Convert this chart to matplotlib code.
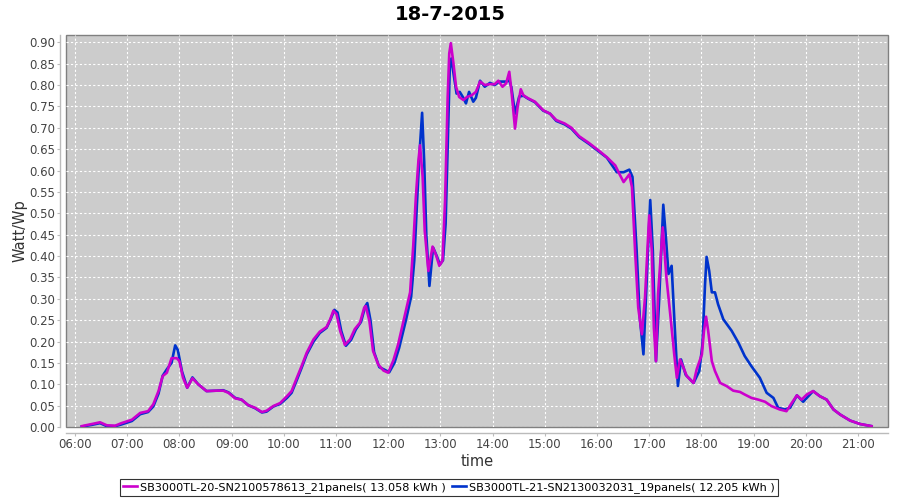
import matplotlib
matplotlib.use("Agg")
import matplotlib.pyplot as plt
from matplotlib.ticker import FixedLocator, FuncFormatter, MultipleLocator

title = "18-7-2015"
xlabel = "time"
ylabel = "Watt/Wp"
series_names = ["SB3000TL-20-SN2100578613_21panels( 13.058 kWh )",
                "SB3000TL-21-SN2130032031_19panels( 12.205 kWh )"]
series_colors = ["#cc00cc", "#0033cc"]

# time in decimal hours
t_sb20 = [6.13, 6.32, 6.48, 6.61, 6.77, 6.89, 7.09, 7.25, 7.40, 7.50, 7.60, 7.68, 7.76, 7.85, 7.95,
          8.00, 8.07, 8.15, 8.25, 8.36, 8.52, 8.71, 8.84, 8.94, 9.07, 9.19, 9.32, 9.45, 9.58, 9.67,
          9.80, 9.93, 10.06, 10.15, 10.25, 10.34, 10.44, 10.57, 10.69, 10.82, 10.89, 10.95, 11.01,
          11.08, 11.17, 11.27, 11.36, 11.46, 11.54, 11.57, 11.64, 11.71, 11.81, 11.91, 12.00, 12.10,
          12.19, 12.32, 12.42, 12.48, 12.53, 12.58, 12.61, 12.66, 12.70, 12.77, 12.85, 12.92, 12.98,
          13.04, 13.09, 13.14, 13.17, 13.20, 13.25, 13.30, 13.36, 13.44, 13.51, 13.60, 13.68, 13.76,
          13.85, 13.95, 14.04, 14.11, 14.19, 14.26, 14.32, 14.36, 14.43, 14.48, 14.54, 14.59, 14.68,
          14.81, 14.97, 15.10, 15.22, 15.38, 15.51, 15.66, 15.85, 16.03, 16.19, 16.35, 16.43, 16.51,
          16.62, 16.67, 16.73, 16.79, 16.86, 16.92, 17.00, 17.05, 17.09, 17.13, 17.17, 17.26, 17.33,
          17.41, 17.48, 17.53, 17.59, 17.66, 17.72, 17.85, 17.91, 18.01, 18.05, 18.09, 18.13, 18.20,
          18.26, 18.36, 18.48, 18.61, 18.74, 18.83, 18.96, 19.09, 19.22, 19.34, 19.50, 19.63, 19.73,
          19.83, 19.92, 20.02, 20.14, 20.27, 20.40, 20.53, 20.66, 20.85, 21.04, 21.26]
v_sb20 = [0.002, 0.007, 0.011, 0.004, 0.003, 0.009, 0.017, 0.033, 0.037, 0.053, 0.084, 0.119, 0.127,
          0.161, 0.161, 0.154, 0.115, 0.092, 0.114, 0.100, 0.084, 0.085, 0.085, 0.080, 0.067, 0.064,
          0.051, 0.045, 0.035, 0.038, 0.049, 0.056, 0.072, 0.084, 0.115, 0.142, 0.174, 0.205, 0.223,
          0.234, 0.252, 0.272, 0.264, 0.225, 0.192, 0.205, 0.229, 0.244, 0.279, 0.283, 0.248, 0.178,
          0.146, 0.132, 0.127, 0.156, 0.193, 0.262, 0.315, 0.424, 0.538, 0.624, 0.659, 0.585, 0.459,
          0.365, 0.422, 0.401, 0.377, 0.389, 0.530, 0.772, 0.874, 0.898, 0.851, 0.796, 0.772, 0.765,
          0.772, 0.776, 0.784, 0.808, 0.800, 0.802, 0.802, 0.810, 0.796, 0.804, 0.831, 0.788, 0.698,
          0.749, 0.790, 0.776, 0.769, 0.761, 0.741, 0.733, 0.718, 0.710, 0.700, 0.680, 0.664, 0.647,
          0.631, 0.612, 0.592, 0.573, 0.591, 0.561, 0.412, 0.279, 0.217, 0.303, 0.495, 0.412, 0.232,
          0.154, 0.311, 0.467, 0.350, 0.256, 0.170, 0.115, 0.158, 0.138, 0.119, 0.103, 0.135, 0.170,
          0.225, 0.258, 0.225, 0.154, 0.131, 0.103, 0.096, 0.085, 0.082, 0.076, 0.068, 0.064, 0.059,
          0.049, 0.041, 0.037, 0.056, 0.074, 0.064, 0.076, 0.084, 0.072, 0.064, 0.041, 0.029, 0.015,
          0.007, 0.002]

t_sb21 = [6.13, 6.32, 6.48, 6.61, 6.77, 6.89, 7.09, 7.25, 7.40, 7.50, 7.60, 7.68, 7.76, 7.85, 7.92,
          7.97, 8.05, 8.15, 8.25, 8.36, 8.52, 8.71, 8.84, 8.94, 9.07, 9.19, 9.32, 9.45, 9.58, 9.67,
          9.80, 9.93, 10.06, 10.15, 10.25, 10.34, 10.44, 10.57, 10.69, 10.82, 10.89, 10.97, 11.03,
          11.10, 11.19, 11.29, 11.38, 11.48, 11.56, 11.60, 11.66, 11.73, 11.83, 11.93, 12.02, 12.12,
          12.21, 12.34, 12.44, 12.50, 12.55, 12.60, 12.65, 12.69, 12.73, 12.79, 12.86, 12.93, 12.99,
          13.05, 13.10, 13.15, 13.18, 13.21, 13.26, 13.31, 13.37, 13.44, 13.49, 13.55, 13.63, 13.68,
          13.76, 13.85, 13.95, 14.04, 14.13, 14.26, 14.32, 14.36, 14.43, 14.51, 14.59, 14.68, 14.81,
          14.97, 15.10, 15.22, 15.38, 15.51, 15.66, 15.85, 16.03, 16.19, 16.38, 16.51, 16.62, 16.68,
          16.76, 16.82, 16.89, 16.95, 17.02, 17.07, 17.13, 17.19, 17.27, 17.32, 17.37, 17.43, 17.48,
          17.55, 17.61, 17.70, 17.85, 17.96, 18.02, 18.07, 18.10, 18.15, 18.20, 18.26, 18.32, 18.42,
          18.58, 18.71, 18.83, 18.96, 19.12, 19.25, 19.38, 19.47, 19.60, 19.70, 19.83, 19.95, 20.14,
          20.27, 20.40, 20.53, 20.66, 20.85, 21.04, 21.26]
v_sb21 = [0.001, 0.005, 0.009, 0.002, 0.002, 0.006, 0.014, 0.030, 0.035, 0.048, 0.078, 0.120, 0.135,
          0.150, 0.191, 0.180, 0.130, 0.092, 0.116, 0.100, 0.084, 0.085, 0.086, 0.081, 0.068, 0.064,
          0.051, 0.044, 0.034, 0.036, 0.048, 0.054, 0.068, 0.080, 0.110, 0.138, 0.170, 0.200, 0.220,
          0.232, 0.250, 0.274, 0.268, 0.225, 0.190, 0.204, 0.228, 0.246, 0.282, 0.290, 0.250, 0.175,
          0.140, 0.134, 0.128, 0.150, 0.185, 0.250, 0.305, 0.390, 0.520, 0.640, 0.735, 0.620, 0.450,
          0.330, 0.420, 0.400, 0.380, 0.390, 0.475, 0.700, 0.840, 0.862, 0.820, 0.780, 0.784, 0.770,
          0.757, 0.784, 0.761, 0.770, 0.810, 0.796, 0.805, 0.800, 0.808, 0.808, 0.811, 0.795, 0.733,
          0.773, 0.775, 0.768, 0.760, 0.740, 0.733, 0.716, 0.708, 0.698, 0.678, 0.662, 0.645, 0.630,
          0.596, 0.596, 0.602, 0.585, 0.412, 0.256, 0.170, 0.334, 0.531, 0.412, 0.154, 0.295, 0.520,
          0.444, 0.358, 0.377, 0.256, 0.096, 0.158, 0.122, 0.103, 0.131, 0.193, 0.334, 0.398, 0.365,
          0.315, 0.315, 0.287, 0.252, 0.225, 0.197, 0.166, 0.142, 0.115, 0.080, 0.068, 0.045, 0.041,
          0.045, 0.074, 0.059, 0.084, 0.072, 0.064, 0.041, 0.029, 0.015, 0.007, 0.002]

hour_ticks = list(range(6, 22))

fig = plt.figure(figsize=(9, 5), dpi=100)
fig.patch.set_facecolor("white")
ax = fig.add_axes([66/900, 1 - 427/500, (888 - 66)/900, (427 - 35)/500])
ax.set_facecolor("#cccccc")
ax.patch.set_edgecolor("#808080")
ax.patch.set_linewidth(1.0)

ax.plot(t_sb21, v_sb21, color=series_colors[1], lw=1.9, label=series_names[1], zorder=3,
        solid_joinstyle="round")
ax.plot(t_sb20, v_sb20, color=series_colors[0], lw=1.9, label=series_names[0], zorder=4,
        solid_joinstyle="round")

ax.set_xlim(5.828, 21.575)
ax.set_ylim(0, 0.917)
ax.xaxis.set_major_locator(FixedLocator(hour_ticks))
ax.xaxis.set_major_formatter(FuncFormatter(lambda v, p: "%02d:00" % int(round(v))))
ax.yaxis.set_major_locator(MultipleLocator(0.05))
ax.yaxis.set_major_formatter(FuncFormatter(lambda v, p: "%.2f" % v))

ax.grid(True, color="white", linestyle=(0, (2, 2)), linewidth=0.8, zorder=1)
ax.set_axisbelow(True)

for side in ["top", "right"]:
    ax.spines[side].set_visible(False)
for side in ["left", "bottom"]:
    ax.spines[side].set_position(("outward", 4))
    ax.spines[side].set_color("#bbbbbb")
    ax.spines[side].set_linewidth(1.0)

ax.tick_params(axis="both", colors="#bbbbbb", labelcolor="#444444", labelsize=8.5,
               length=2, width=0.8, direction="out", pad=2)

ax.set_xlabel(xlabel, fontsize=10.5, color="#333333", labelpad=2)
ax.set_ylabel(ylabel, fontsize=10.5, color="#333333", labelpad=1)
fig.text(0.5, 0.97, title, ha="center", va="center", fontsize=14, fontweight="bold", color="black")

handles, labels = ax.get_legend_handles_labels()
order = [1, 0]
leg = fig.legend([handles[i] for i in order], [labels[i] for i in order],
                 loc="center", bbox_to_anchor=(0.499, 0.025), ncol=2, fontsize=8.1,
                 frameon=True, fancybox=False, edgecolor="black", handlelength=1.2,
                 handletextpad=0.3, columnspacing=0.6, borderpad=0.25, borderaxespad=0)
leg.get_frame().set_linewidth(0.8)

fig.savefig("out.png", dpi=100)
